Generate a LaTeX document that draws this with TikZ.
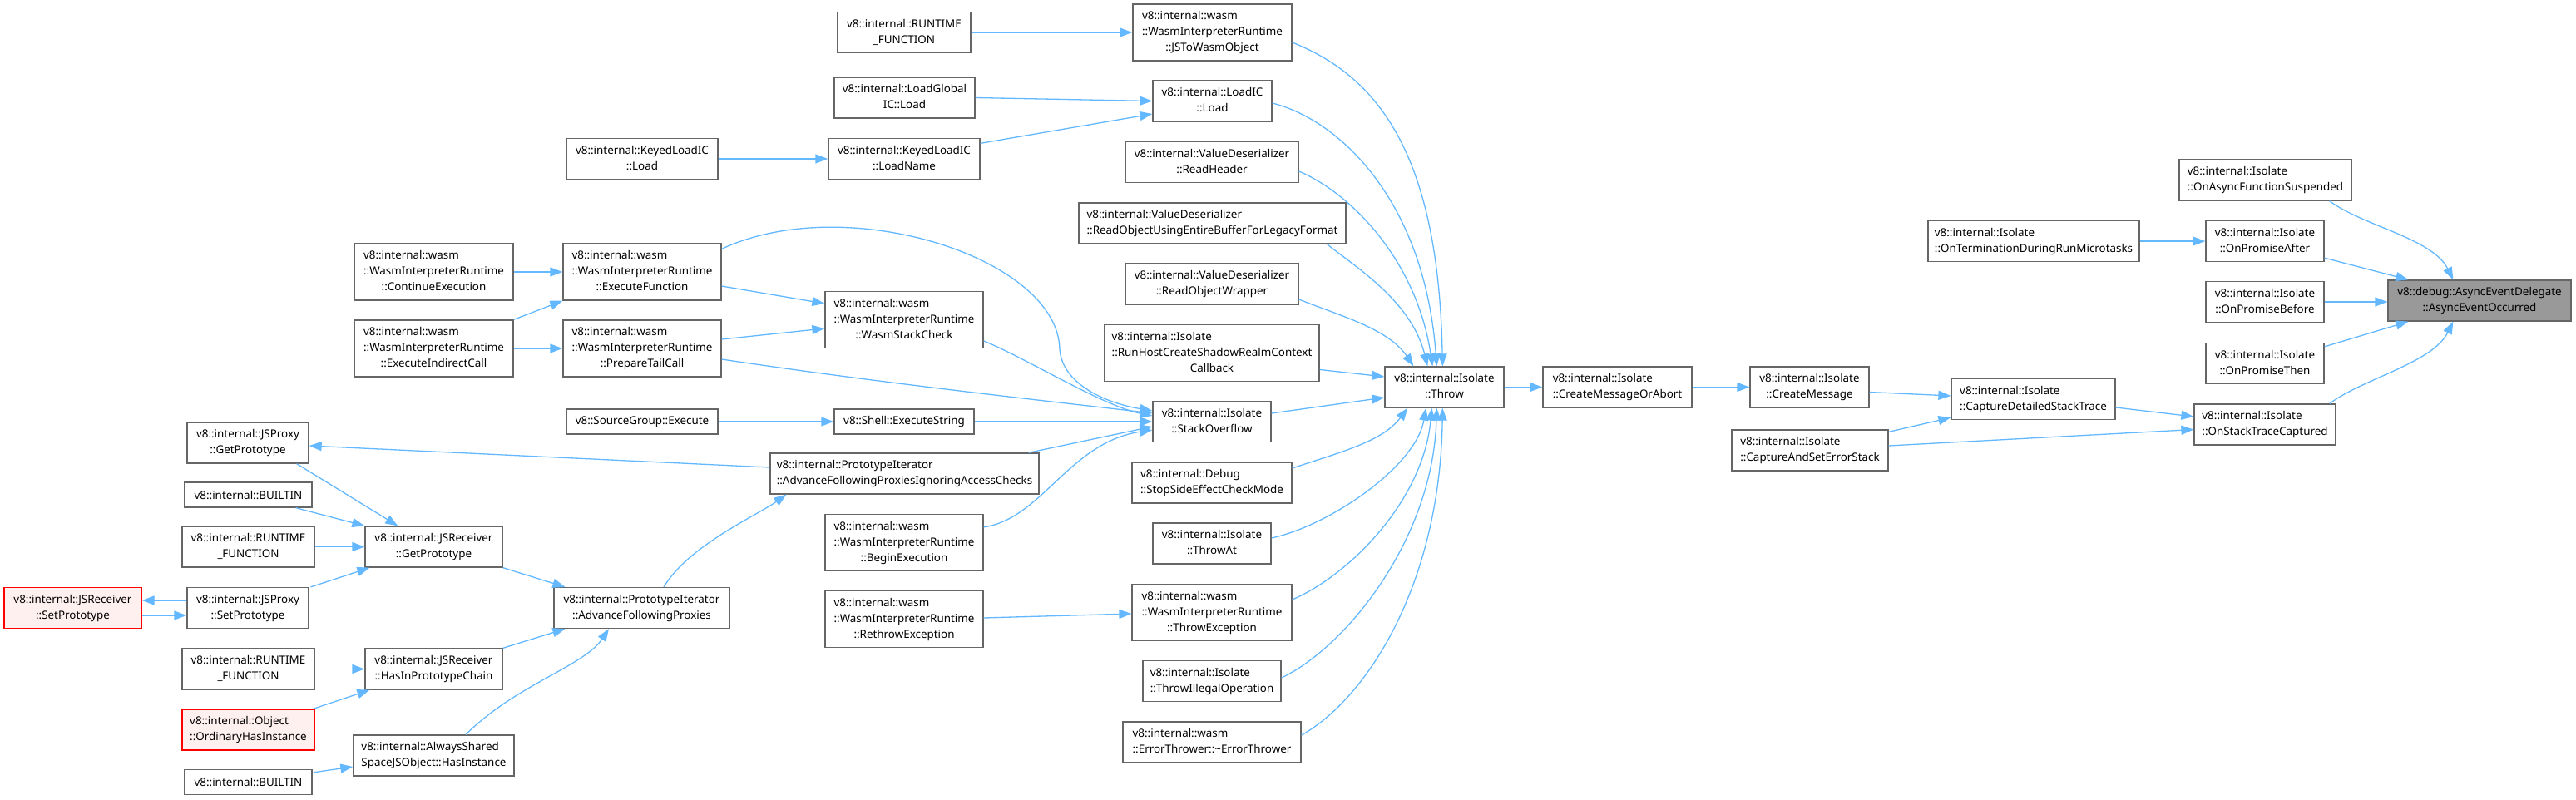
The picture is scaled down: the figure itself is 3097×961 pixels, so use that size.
\documentclass[tikz,border=0pt]{standalone}
\usepackage{fontspec}
\setmainfont{Noto Sans}
\usetikzlibrary{calc,arrows.meta}
\definecolor{edgeblue}{HTML}{63B8FF}
\definecolor{boxgray}{HTML}{666666}
\definecolor{redfill}{HTML}{FFF0F0}
\definecolor{rootfill}{HTML}{999999}
\newcommand{\lbl}[2]{\begin{tabular}{@{}l@{}}#1\\\multicolumn{1}{@{}c@{}}{#2}\end{tabular}}
\tikzset{
  box/.style={draw=boxgray, line width=1.3pt, fill=white, inner sep=0pt,
    font=\fontsize{13.4}{19}\selectfont},
  redbox/.style={box, draw=red, fill=redfill},
  rootbox/.style={box, fill=rootfill},
  edge/.style={draw=edgeblue, line width=1.3pt, -{Triangle[length=15pt,width=11pt]}},
}
\begin{document}
\begin{tikzpicture}[x=1pt,y=-1pt]
\useasboundingbox (0,0) rectangle (3097,961);
% ---------- nodes ----------
\node[box, minimum width=146, minimum height=49] (jsproxyGet) at (298,532.5) {\lbl{v8::internal::JSProxy}{::GetPrototype}};
\node[box, minimum width=153, minimum height=30] (builtinA) at (298.5,595) {v8::internal::BUILTIN};
\node[box, minimum width=159, minimum height=49] (runtimeB) at (298.5,657.5) {\lbl{v8::internal::RUNTIME}{\_FUNCTION}};
\node[box, minimum width=165, minimum height=49] (recvGet) at (521.5,657.5) {\lbl{v8::internal::JSReceiver}{::GetPrototype}};
\node[redbox, minimum width=165, minimum height=49] (recvSet) at (87.5,731) {\lbl{v8::internal::JSReceiver}{::SetPrototype}};
\node[box, minimum width=146, minimum height=49] (jsproxySet) at (298,731) {\lbl{v8::internal::JSProxy}{::SetPrototype}};
\node[box, minimum width=211, minimum height=49] (advFollow) at (771.5,731) {\lbl{v8::internal::PrototypeIterator}{::AdvanceFollowingProxies}};
\node[box, minimum width=159, minimum height=49] (runtimeC) at (298.5,804.5) {\lbl{v8::internal::RUNTIME}{\_FUNCTION}};
\node[box, minimum width=165, minimum height=49] (hasInProto) at (521.5,804.5) {\lbl{v8::internal::JSReceiver}{::HasInPrototypeChain}};
\node[redbox, minimum width=159, minimum height=49] (ordinary) at (298.5,877.5) {\lbl{v8::internal::Object}{::OrdinaryHasInstance}};
\node[box, minimum width=193, minimum height=49] (alwaysShared) at (521.5,908.5) {\lbl{v8::internal::AlwaysShared}{SpaceJSObject::HasInstance}};
\node[box, minimum width=153, minimum height=30] (builtinB) at (298.5,940.5) {v8::internal::BUILTIN};
\node[box, minimum width=182, minimum height=30] (sourceGroup) at (772,507) {v8::SourceGroup::Execute};
\node[box, minimum width=182, minimum height=49] (keyedLoad) at (772,191) {\lbl{v8::internal::KeyedLoadIC}{::Load}};
\node[box, minimum width=191, minimum height=68] (contExec) at (521.5,327) {\lbl{v8::internal::wasm\\::WasmInterpreterRuntime}{::ContinueExecution}};
\node[box, minimum width=190, minimum height=68] (execFunc) at (772,327) {\lbl{v8::internal::wasm\\::WasmInterpreterRuntime}{::ExecuteFunction}};
\node[box, minimum width=191, minimum height=68] (execIndirect) at (521.5,419) {\lbl{v8::internal::wasm\\::WasmInterpreterRuntime}{::ExecuteIndirectCall}};
\node[box, minimum width=190, minimum height=68] (prepTail) at (772,419) {\lbl{v8::internal::wasm\\::WasmInterpreterRuntime}{::PrepareTailCall}};
\node[box, minimum width=160, minimum height=49] (runtimeA) at (1087,39) {\lbl{v8::internal::RUNTIME}{\_FUNCTION}};
\node[box, minimum width=191, minimum height=68] (jsToWasm) at (1457.5,39) {\lbl{v8::internal::wasm\\::WasmInterpreterRuntime}{::JSToWasmObject}};
\node[box, minimum width=169, minimum height=49] (loadGlobal) at (1087.5,117.5) {\lbl{v8::internal::LoadGlobal}{IC::Load}};
\node[box, minimum width=143, minimum height=49] (loadIC) at (1457.5,121.5) {\lbl{v8::internal::LoadIC}{::Load}};
\node[box, minimum width=182, minimum height=49] (keyedLoadName) at (1087,191) {\lbl{v8::internal::KeyedLoadIC}{::LoadName}};
\node[box, minimum width=208, minimum height=49] (readHeader) at (1457,195) {\lbl{v8::internal::ValueDeserializer}{::ReadHeader}};
\node[box, minimum width=321, minimum height=49] (readObjUsing) at (1457.5,268.5) {\lbl{v8::internal::ValueDeserializer}{::ReadObjectUsingEntireBufferForLegacyFormat}};
\node[box, minimum width=208, minimum height=49] (readWrapper) at (1457,341.5) {\lbl{v8::internal::ValueDeserializer}{::ReadObjectWrapper}};
\node[box, minimum width=190, minimum height=68] (wasmStackCheck) at (1087,384.5) {\lbl{v8::internal::wasm\\::WasmInterpreterRuntime}{::WasmStackCheck}};
\node[box, minimum width=258, minimum height=68] (runHost) at (1457,424.5) {\lbl{v8::internal::Isolate\\::RunHostCreateShadowRealmContext}{Callback}};
\node[box, minimum width=143, minimum height=49] (throw) at (1736.5,465.5) {\lbl{v8::internal::Isolate}{::Throw}};
\node[box, minimum width=168, minimum height=30] (shellExec) at (1087,507) {v8::Shell::ExecuteString};
\node[box, minimum width=142, minimum height=49] (stackOverflow) at (1457,507) {\lbl{v8::internal::Isolate}{::StackOverflow}};
\node[box, minimum width=323, minimum height=49] (advIgnoring) at (1087.5,569.5) {\lbl{v8::internal::PrototypeIterator}{::AdvanceFollowingProxiesIgnoringAccessChecks}};
\node[box, minimum width=192, minimum height=49] (stopSide) at (1457,580.5) {\lbl{v8::internal::Debug}{::StopSideEffectCheckMode}};
\node[box, minimum width=190, minimum height=68] (beginExec) at (1087,652.5) {\lbl{v8::internal::wasm\\::WasmInterpreterRuntime}{::BeginExecution}};
\node[box, minimum width=142, minimum height=49] (throwAt) at (1457,653.5) {\lbl{v8::internal::Isolate}{::ThrowAt}};
\node[box, minimum width=190, minimum height=68] (rethrow) at (1087,744.5) {\lbl{v8::internal::wasm\\::WasmInterpreterRuntime}{::RethrowException}};
\node[box, minimum width=192, minimum height=68] (throwExc) at (1457,736.5) {\lbl{v8::internal::wasm\\::WasmInterpreterRuntime}{::ThrowException}};
\node[box, minimum width=166, minimum height=49] (throwIllegal) at (1457,819) {\lbl{v8::internal::Isolate}{::ThrowIllegalOperation}};
\node[box, minimum width=214, minimum height=49] (errorThrower) at (1457,892.5) {\lbl{v8::internal::wasm}{::ErrorThrower::\textasciitilde ErrorThrower}};
\node[box, minimum width=179, minimum height=49] (createMsgAbort) at (1944.5,465.5) {\lbl{v8::internal::Isolate}{::CreateMessageOrAbort}};
\node[box, minimum width=143, minimum height=49] (createMsg) at (2175.5,465.5) {\lbl{v8::internal::Isolate}{::CreateMessage}};
\node[box, minimum width=197, minimum height=49] (captureDetailed) at (2444.5,480) {\lbl{v8::internal::Isolate}{::CaptureDetailedStackTrace}};
\node[box, minimum width=188, minimum height=49] (captureAndSet) at (2176,541.5) {\lbl{v8::internal::Isolate}{::CaptureAndSetErrorStack}};
\node[box, minimum width=254, minimum height=49] (onTerm) at (2445,290) {\lbl{v8::internal::Isolate}{::OnTerminationDuringRunMicrotasks}};
\node[box, minimum width=207, minimum height=49] (onAsyncSusp) at (2723.5,216.5) {\lbl{v8::internal::Isolate}{::OnAsyncFunctionSuspended}};
\node[box, minimum width=142, minimum height=49] (onPromiseAfter) at (2723,290) {\lbl{v8::internal::Isolate}{::OnPromiseAfter}};
\node[box, minimum width=142, minimum height=49] (onPromiseBefore) at (2723,363) {\lbl{v8::internal::Isolate}{::OnPromiseBefore}};
\node[box, minimum width=142, minimum height=49] (onPromiseThen) at (2723,437) {\lbl{v8::internal::Isolate}{::OnPromiseThen}};
\node[box, minimum width=170, minimum height=49] (onStackTrace) at (2723,510.5) {\lbl{v8::internal::Isolate}{::OnStackTraceCaptured}};
\node[rootbox, minimum width=220, minimum height=49] (asyncEvent) at (2981,361.5) {\lbl{v8::debug::AsyncEventDelegate}{::AsyncEventOccurred}};
\coordinate (w1) at (1274,420);
% ---------- edges: left cluster ----------
\draw[edge] ($(jsproxyGet.south east)+(-15,0)$) -- ($(recvGet.north west)+(40,0)$);
\draw[edge] ($(builtinA.south east)+(-20,0)$) -- (recvGet.north west);
\draw[edge] (runtimeB.east) -- (recvGet.west);
\draw[edge] ($(jsproxySet.north east)+(2,0)$) -- ($(recvGet.south west)+(6,0)$);
\draw[edge] ($(jsproxySet.west)+(0,-9)$) -- ($(recvSet.east)+(0,-9)$);
\draw[edge] ($(recvSet.east)+(0,9)$) -- ($(jsproxySet.west)+(0,9)$);
\draw[edge] (recvGet.south east) -- ($(advFollow.north west)+(14,0)$);
\draw[edge] (runtimeC.east) -- (hasInProto.west);
\draw[edge] ($(ordinary.north east)+(-2,0)$) -- ($(hasInProto.south west)+(6,0)$);
\draw[edge] (hasInProto.north east) -- ($(advFollow.south west)+(14,0)$);
\draw[edge] ($(builtinB.north east)+(1,4)$) -- ($(alwaysShared.west)+(0,13.5)$);
\draw[edge] ($(alwaysShared.north)+(38.5,0)$) .. controls +(60,-60) and +(-30,45) .. ($(advFollow.south)+(-39.5,0)$);
\draw[edge] ($(advFollow.north)+(26.5,0)$) .. controls +(30,-50) and +(-35,25) .. ($(advIgnoring.south west)+(20,0)$);
\draw[edge] ($(advIgnoring.west)+(0,-7.5)$) -- ($(jsproxyGet.east)+(0,3.5)$);
\draw[edge] ($(keyedLoad.east)$) -- (keyedLoadName.west);
\draw[edge] (contExec.east) -- (execFunc.west);
\draw[edge] (execIndirect.north east) -- (execFunc.south west);
\draw[edge] (execIndirect.east) -- (prepTail.west);
\draw[edge] (sourceGroup.east) -- (shellExec.west);
\draw[edge] ($(execFunc.east)+(0,17)$) -- ($(wasmStackCheck.west)+(0,-19.5)$);
\draw[edge] ($(prepTail.east)+(0,-11)$) -- ($(wasmStackCheck.west)+(0,10.5)$);
% ---------- edges into StackOverflow ----------
\draw[edge] ($(execFunc.north east)+(0,7)$) .. controls +(150,-70) and +(-2,-110) .. (w1) .. controls +(3,40) and +(-60,-10) .. ($(stackOverflow.west)+(0,-13)$);
\draw[edge] ($(prepTail.east)+(0,13)$) .. controls +(200,30) and +(-100,-12) .. ($(stackOverflow.west)+(0,-10)$);
\draw[edge] ($(wasmStackCheck.east)+(0,25.5)$) .. controls +(50,20) and +(-60,-12) .. ($(stackOverflow.west)+(0,-7)$);
\draw[edge] (shellExec.east) -- (stackOverflow.west);
\draw[edge] ($(advIgnoring.north east)+(-13,0)$) -- ($(stackOverflow.west)+(0,6)$);
\draw[edge] ($(beginExec.north east)+(0,16)$) .. controls +(70,-10) and +(-100,15) .. ($(stackOverflow.west)+(0,10)$);
% ---------- top column ----------
\draw[edge] (runtimeA.east) -- (jsToWasm.west);
\draw[edge] (loadGlobal.east) -- (loadIC.west);
\draw[edge] ($(keyedLoadName.north east)+(0,6.5)$) -- ($(loadIC.west)+(0,15.5)$);
\draw[edge] ($(rethrow.east)+(0,-1.5)$) -- ($(throwExc.west)+(0,1.5)$);
% ---------- edges into Throw ----------
\draw[edge] ($(jsToWasm.east)+(0,12)$) .. controls +(100,40) and +(-5,-260) .. ($(throw.north west)+(70,0)$);
\draw[edge] ($(loadIC.east)+(0,2.5)$) .. controls +(80,20) and +(-15,-200) .. ($(throw.north west)+(63,0)$);
\draw[edge] ($(readHeader.east)+(0,11)$) .. controls +(60,25) and +(-20,-130) .. ($(throw.north west)+(58,0)$);
\draw[edge] ($(readObjUsing.south east)+(-23,0)$) .. controls +(30,25) and +(-20,-80) .. ($(throw.north west)+(52,0)$);
\draw[edge] ($(readWrapper.east)+(0,18.5)$) .. controls +(50,20) and +(-30,-45) .. ($(throw.north west)+(35,0)$);
\draw[edge] ($(runHost.east)+(0,20)$) -- ($(throw.west)+(0,-12.5)$);
\draw[edge] ($(stackOverflow.east)+(0,-10)$) -- ($(throw.west)+(0,12.5)$);
\draw[edge] ($(stopSide.east)+(0,-17.5)$) .. controls +(60,-20) and +(-30,40) .. ($(throw.south west)+(28,0)$);
\draw[edge] ($(throwAt.east)+(0,-6.5)$) .. controls +(70,-15) and +(-12,70) .. ($(throw.south west)+(50,0)$);
\draw[edge] ($(throwExc.east)+(0,-15.5)$) .. controls +(70,-30) and +(-10,110) .. ($(throw.south west)+(57,0)$);
\draw[edge] ($(throwIllegal.east)+(0,-4)$) .. controls +(75,-35) and +(-5,160) .. ($(throw.south west)+(63,0)$);
\draw[edge] ($(errorThrower.east)+(0,-8.5)$) .. controls +(80,-45) and +(-3,210) .. ($(throw.south west)+(70,0)$);
% ---------- right part ----------
\draw[edge] (throw.east) -- (createMsgAbort.west);
\draw[edge] (createMsgAbort.east) -- (createMsg.west);
\draw[edge] ($(createMsg.east)+(0,6)$) -- ($(captureDetailed.west)+(0,-4)$);
\draw[edge] ($(captureAndSet.north east)+(0,3)$) -- ($(captureDetailed.south west)+(0,-3)$);
\draw[edge] ($(captureAndSet.east)+(0,-5.5)$) -- ($(onStackTrace.west)+(0,6)$);
\draw[edge] ($(captureDetailed.east)+(0,10)$) -- ($(onStackTrace.west)+(0,-9.5)$);
\draw[edge] (onTerm.east) -- (onPromiseAfter.west);
\draw[edge] ($(onAsyncSusp.south east)+(-27,0)$) .. controls +(40,30) and +(-25,-50) .. ($(asyncEvent.north west)+(79,0)$);
\draw[edge] ($(onPromiseAfter.south east)+(0,-5)$) -- ($(asyncEvent.north west)+(25,0)$);
\draw[edge] (onPromiseBefore.east) -- ($(asyncEvent.west)+(0,1.5)$);
\draw[edge] ($(onPromiseThen.north east)+(0,5)$) -- ($(asyncEvent.south west)+(25,0)$);
\draw[edge] ($(onStackTrace.north east)+(-8,0)$) .. controls +(40,-30) and +(-25,50) .. ($(asyncEvent.south west)+(79,0)$);
\end{tikzpicture}
\end{document}
